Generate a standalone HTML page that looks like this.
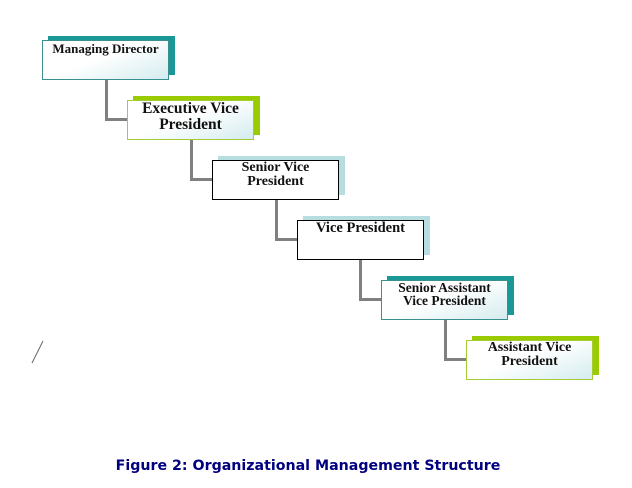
<!DOCTYPE html>
<html><head><style>
body{margin:0;width:632px;height:488px;background:#fff;position:relative;overflow:hidden;font-family:"Liberation Serif",serif}
.s{position:absolute;width:127px;height:39px}
.b{position:absolute;width:125px;height:38px;background:linear-gradient(160deg,#fff 45%,#d4ecef 100%);text-align:center;font-weight:bold;color:#111;line-height:1.0;white-space:nowrap}
.l{position:absolute;background:#808080}
</style></head><body>
<div class="l" style="left:105px;top:80px;width:3px;height:41px"></div>
<div class="l" style="left:105px;top:118px;width:23px;height:3px"></div>
<div class="l" style="left:190px;top:140px;width:3px;height:41px"></div>
<div class="l" style="left:190px;top:178px;width:23px;height:3px"></div>
<div class="l" style="left:275px;top:200px;width:3px;height:41px"></div>
<div class="l" style="left:275px;top:238px;width:23px;height:3px"></div>
<div class="l" style="left:359px;top:260px;width:3px;height:41px"></div>
<div class="l" style="left:359px;top:298px;width:23px;height:3px"></div>
<div class="l" style="left:444px;top:320px;width:3px;height:41px"></div>
<div class="l" style="left:444px;top:358px;width:23px;height:3px"></div>

<div class="s" style="left:48px;top:36px;background:#1a9797"></div>
<div class="b" style="left:42px;top:40px;border:1px solid #3a8f8f;font-size:13px;padding-top:1px;height:37px">Managing Director</div>

<div class="s" style="left:133px;top:96px;background:#99cc00"></div>
<div class="b" style="left:127px;top:100px;border:1px solid #a6cc33;font-size:15.5px;line-height:16px">Executive Vice<br>President</div>

<div class="s" style="left:218px;top:156px;background:#b8dde1"></div>
<div class="b" style="left:212px;top:160px;border:1px solid #000;background:#fff;font-size:14px;line-height:14px">Senior Vice<br>President</div>

<div class="s" style="left:303px;top:216px;background:#b8dde1"></div>
<div class="b" style="left:297px;top:220px;border:1px solid #000;background:#fff;font-size:14.5px">Vice President</div>

<div class="s" style="left:387px;top:276px;background:#1a9797"></div>
<div class="b" style="left:381px;top:280px;border:1px solid #3a8f8f;font-size:13.5px;line-height:13px">Senior Assistant<br>Vice President</div>

<div class="s" style="left:472px;top:336px;background:#99cc00"></div>
<div class="b" style="left:466px;top:340px;border:1px solid #a6cc33;font-size:14px;line-height:14px">Assistant Vice<br>President</div>

<svg style="position:absolute;left:0;top:0" width="632" height="488"><line x1="32" y1="363" x2="43" y2="341" stroke="#666" stroke-width="1"/></svg>

<div style="position:absolute;left:-8px;width:632px;top:458px;text-align:center;font-family:'DejaVu Sans',sans-serif;font-weight:bold;font-size:14.2px;color:#000080">Figure 2: Organizational Management Structure</div>
</body></html>
